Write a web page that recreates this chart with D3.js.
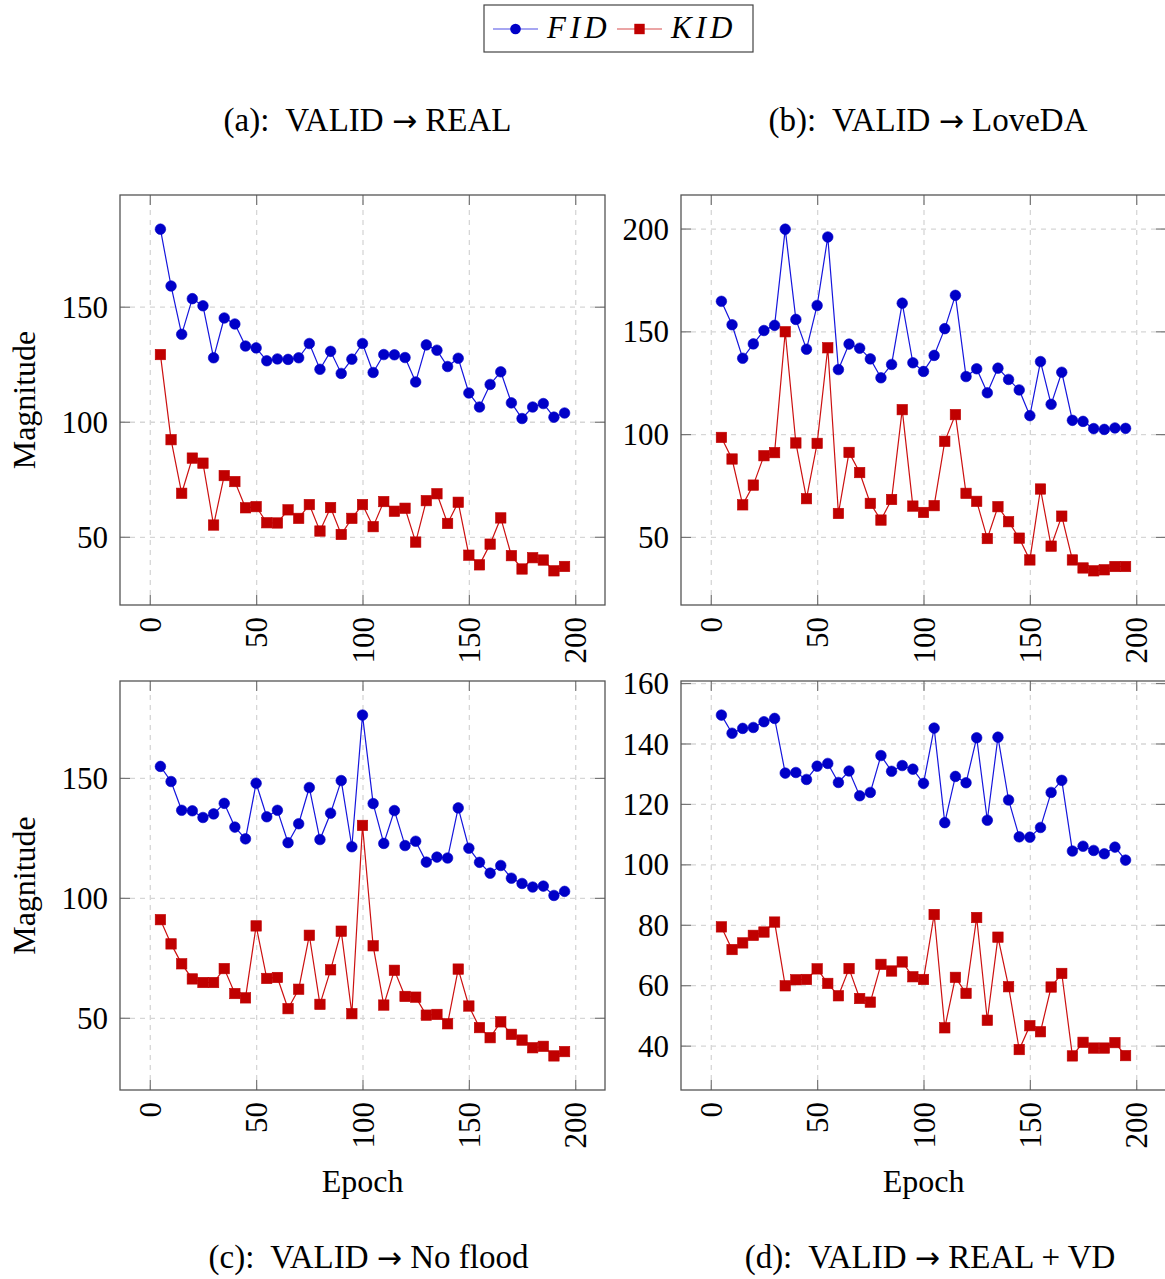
<!DOCTYPE html>
<html><head><meta charset="utf-8">
<script src="https://cdn.jsdelivr.net/npm/d3@7"></script>
<style>
body{margin:0;background:#fff}
svg{display:block}
text{font-family:"Liberation Serif","Times New Roman",serif;fill:#000}
</style>
</head><body>
<svg id="c" width="1165" height="1279"></svg>
<script>
const epochs=[5,10,15,20,25,30,35,40,45,50,55,60,65,70,75,80,85,90,95,100,105,110,115,120,125,130,135,140,145,150,155,160,165,170,175,180,185,190,195];
const fidA=[183.7,159.0,138.0,153.5,150.4,127.8,145.1,142.5,132.9,132.1,126.5,127.3,127.1,127.8,134.0,122.8,130.6,121.0,127.2,134.0,121.4,129.2,129.1,127.9,117.3,133.4,131.1,124.0,127.6,112.5,106.4,116.2,121.7,108.2,101.4,106.4,107.9,102.0,103.8];
const kidA=[129.2,92.2,68.9,84.2,82.0,55.1,76.6,74.0,62.6,63.1,56.1,56.0,61.7,58.0,64.0,52.5,62.7,51.0,58.0,64.0,54.4,65.3,61.1,62.4,47.7,65.7,68.7,55.8,65.0,42.0,37.8,46.8,58.2,41.8,36.0,40.9,39.9,35.2,37.1];
const fidB=[164.6,153.2,136.9,143.9,150.4,152.9,199.7,155.8,141.3,162.6,195.9,131.4,143.8,141.8,136.6,127.4,133.9,163.7,134.7,130.5,138.3,151.3,167.5,128.0,131.8,120.1,132.1,126.6,121.5,109.0,135.3,114.5,130.1,106.7,106.2,102.7,102.3,103.0,102.8];
const kidB=[98.4,87.9,65.6,75.2,89.5,91.0,149.8,95.7,68.6,95.5,142.0,61.4,91.1,81.3,66.3,58.2,68.2,111.9,65.0,61.9,65.2,96.5,109.5,71.2,67.3,49.2,64.7,57.4,49.4,38.8,73.3,45.5,60.1,38.8,34.9,33.5,34.0,35.6,35.6];
const fidC=[154.8,148.5,136.5,136.3,133.5,135.0,139.4,129.5,124.6,147.8,133.8,136.5,123.0,130.9,146.0,124.3,135.3,148.9,121.3,176.2,139.3,122.7,136.4,121.8,123.6,114.9,117.0,116.6,137.5,120.7,114.8,110.3,113.5,108.2,106.0,104.5,104.9,101.0,102.7];
const kidC=[90.9,80.8,72.5,66.2,64.7,64.7,70.5,60.1,58.3,88.3,66.4,66.8,53.8,61.9,84.4,55.6,70.0,86.1,51.7,130.2,80.0,55.3,69.8,58.9,58.6,51.1,51.4,47.5,70.3,54.9,45.9,41.7,48.3,43.1,40.7,37.5,38.1,34.1,35.9];
const fidD=[149.4,143.4,145.0,145.3,147.2,148.3,130.2,130.4,128.1,132.5,133.4,127.1,130.9,122.7,123.8,136.0,130.8,132.7,131.5,126.8,145.1,113.8,129.1,127.0,141.9,114.6,142.1,121.3,109.1,109.0,112.2,123.8,127.8,104.4,106.0,104.6,103.5,105.7,101.4];
const kidD=[79.3,71.8,74.0,76.5,77.6,80.9,59.8,61.8,61.9,65.4,60.6,56.5,65.5,55.6,54.4,66.9,64.7,67.7,62.8,61.9,83.4,45.9,62.6,57.3,82.4,48.4,75.9,59.5,38.7,46.6,44.6,59.4,63.9,36.6,41.1,39.2,39.2,41.0,36.7];
const xTicks=[0,50,100,150,200];
const yTicksA=[50,100,150];
const yTicksB=[50,100,150,200];
const yTicksC=[50,100,150];
const yTicksD=[40,60,80,100,120,140,160];
const titleParts=[["(a):\u00a0 VALID ","\u2192"," REAL"],["(b):\u00a0 VALID ","\u2192"," LoveDA"],["(c):\u00a0 VALID ","\u2192"," No flood"],["(d):\u00a0 VALID ","\u2192"," REAL + VD"]];
const seriesNames=["FID","KID"];
const yLabel="Magnitude", xLabel="Epoch";

const SERIF="'Liberation Serif','Times New Roman',serif";
const BLUE_LINE="#1515dd", BLUE_FILL="#0000c8", RED_LINE="#cc1010", RED_FILL="#c00000";
const svg=d3.select("#c");
const W=485;
const panels=[
 {x:120,y:195,h:410,fid:fidA,kid:kidA,yt:yTicksA,title:titleParts[0],tx:367.5,ty:131,ylab:true,xlab:false},
 {x:681,y:195,h:410,fid:fidB,kid:kidB,yt:yTicksB,title:titleParts[1],tx:928,ty:131,ylab:false,xlab:false},
 {x:120,y:681,h:409,fid:fidC,kid:kidC,yt:yTicksC,title:titleParts[2],tx:368.5,ty:1268,ylab:true,xlab:true},
 {x:681,y:681,h:409,fid:fidD,kid:kidD,yt:yTicksD,title:titleParts[3],tx:930,ty:1268,ylab:false,xlab:true}
];

function enlarge(ext){const p=(ext[1]-ext[0])*0.1;return [ext[0]-p,ext[1]+p];}

panels.forEach(p=>{
  const H=p.h;
  const g=svg.append("g").attr("transform",`translate(${p.x},${p.y})`);
  const xs=d3.scaleLinear().domain(enlarge(d3.extent(epochs))).range([0,W]);
  const ys=d3.scaleLinear().domain(enlarge(d3.extent(p.fid.concat(p.kid)))).range([H,0]);

  // grid
  const gx=g.append("g").attr("transform",`translate(0,${H})`)
    .call(d3.axisBottom(xs).tickValues(xTicks).tickSize(-H).tickFormat(""));
  const gy=g.append("g").call(d3.axisLeft(ys).tickValues(p.yt).tickSize(-W).tickFormat(""));
  [gx,gy].forEach(a=>{a.select(".domain").remove();
    a.selectAll("line").attr("stroke","#d6d6d6").attr("stroke-width",1.3).attr("stroke-dasharray","5,5");});

  // inner ticks on all sides
  const tickStyle=a=>{a.select(".domain").remove();a.selectAll("line").attr("stroke","#777").attr("stroke-width",1.2);};
  g.append("g").attr("transform",`translate(0,${H})`).call(d3.axisBottom(xs).tickValues(xTicks).tickSize(-10).tickFormat("")).call(tickStyle);
  g.append("g").call(d3.axisTop(xs).tickValues(xTicks).tickSize(-10).tickFormat("")).call(tickStyle);
  g.append("g").call(d3.axisLeft(ys).tickValues(p.yt).tickSize(-10).tickFormat("")).call(tickStyle);
  g.append("g").attr("transform",`translate(${W},0)`).call(d3.axisRight(ys).tickValues(p.yt).tickSize(-10).tickFormat("")).call(tickStyle);

  // tick labels
  const xl=g.append("g").attr("transform",`translate(0,${H})`)
    .call(d3.axisBottom(xs).tickValues(xTicks).tickSize(0).tickFormat(d3.format("d")))
    .attr("font-family",SERIF).attr("font-size",31);
  xl.select(".domain").remove();
  xl.selectAll("text").attr("y",0).attr("x",0).attr("dy","0.34em")
    .attr("transform","translate(0,12) rotate(-90)").attr("text-anchor","end").attr("fill","#000");
  const yl=g.append("g").call(d3.axisLeft(ys).tickValues(p.yt).tickSize(0).tickPadding(12).tickFormat(d3.format("d")))
    .attr("font-family",SERIF).attr("font-size",31);
  yl.select(".domain").remove();
  yl.selectAll("text").attr("dy","0.34em").attr("fill","#000");

  // frame
  g.append("rect").attr("width",W).attr("height",H).attr("fill","none").attr("stroke","#555").attr("stroke-width",1.3);

  // series
  const line=d3.line().x((d,i)=>xs(epochs[i])).y(d=>ys(d));
  g.append("path").datum(p.fid).attr("d",line).attr("fill","none").attr("stroke",BLUE_LINE).attr("stroke-width",1.2);
  g.append("path").datum(p.kid).attr("d",line).attr("fill","none").attr("stroke",RED_LINE).attr("stroke-width",1.2);
  g.selectAll(".fm").data(p.fid).join("circle").attr("cx",(d,i)=>xs(epochs[i])).attr("cy",d=>ys(d))
    .attr("r",5.3).attr("fill",BLUE_FILL).attr("stroke",BLUE_FILL).attr("stroke-width",0.6);
  const s=10.4;
  g.selectAll(".km").data(p.kid).join("rect").attr("x",(d,i)=>xs(epochs[i])-s/2).attr("y",d=>ys(d)-s/2)
    .attr("width",s).attr("height",s).attr("fill",RED_FILL).attr("stroke",RED_FILL).attr("stroke-width",0.6);

  // labels
  if(p.ylab){
    svg.append("text").attr("transform",`translate(35,${p.y+H/2}) rotate(-90)`).attr("text-anchor","middle")
      .style("font-size","32px").text(yLabel);
  }
  if(p.xlab){
    svg.append("text").attr("x",p.x+W/2).attr("y",1192).attr("text-anchor","middle").style("font-size","32px").text(xLabel);
  }
  const t=svg.append("text").attr("x",p.tx).attr("y",p.ty).attr("text-anchor","middle").style("font-size","33px")
    .style("white-space","pre");
  t.append("tspan").text(p.title[0]);
  t.append("tspan").style("font-family","'DejaVu Sans',sans-serif").style("font-size","30px").text(p.title[1]);
  t.append("tspan").text(p.title[2]);
});

// legend
const lg=svg.append("g");
lg.append("rect").attr("x",484).attr("y",5).attr("width",269).attr("height",47).attr("fill","#fff").attr("stroke","#444").attr("stroke-width",1.2);
const items=[{name:seriesNames[0],lc:BLUE_LINE,fc:BLUE_FILL,shape:"c",x0:493},{name:seriesNames[1],lc:RED_LINE,fc:RED_FILL,shape:"s",x0:617}];
items.forEach(it=>{
  lg.append("line").attr("x1",it.x0).attr("x2",it.x0+45).attr("y1",29).attr("y2",29).attr("stroke",it.lc).attr("stroke-width",1.2).attr("opacity",0.75);
  if(it.shape==="c") lg.append("circle").attr("cx",it.x0+22.5).attr("cy",29).attr("r",5.3).attr("fill",it.fc);
  else lg.append("rect").attr("x",it.x0+22.5-5.2).attr("y",29-5.2).attr("width",10.4).attr("height",10.4).attr("fill",it.fc);
  lg.append("text").attr("x",it.x0+54).attr("y",38).style("font-size","31px").style("font-style","italic")
    .style("letter-spacing","4px").text(it.name);
});
</script>
</body></html>
